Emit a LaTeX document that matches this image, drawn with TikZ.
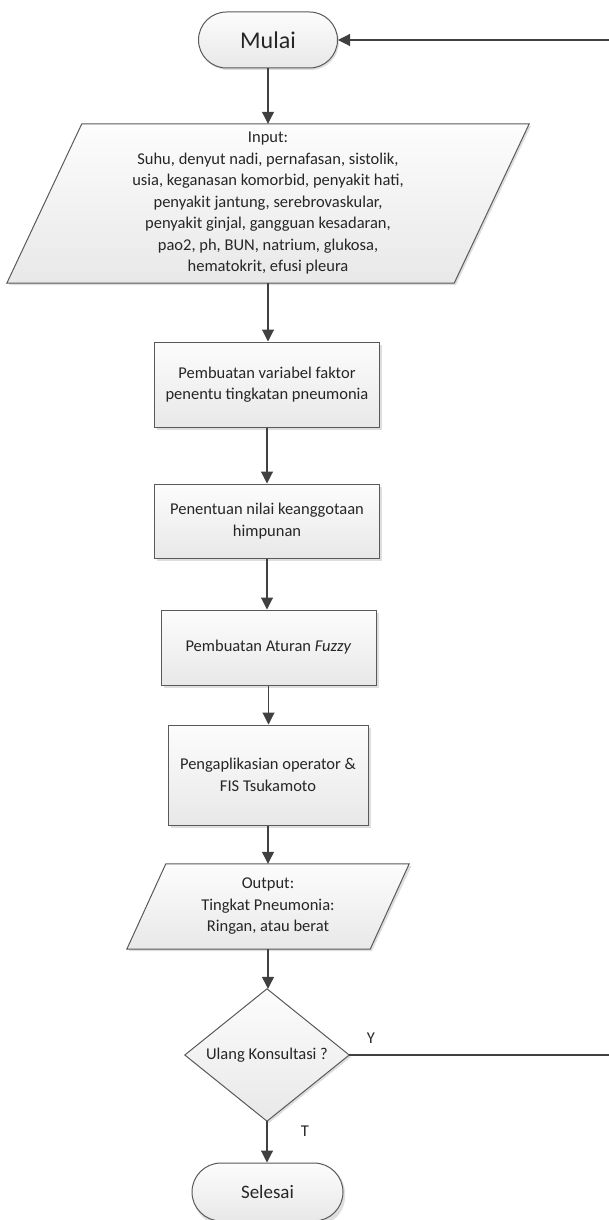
\documentclass[tikz,border=0pt]{standalone}
\usepackage{fontspec}
\setmainfont{Carlito}
\usetikzlibrary{arrows.meta,shapes.misc,calc}
\definecolor{linec}{HTML}{404040}
\definecolor{bordc}{HTML}{595959}
\definecolor{txtc}{HTML}{262626}
\tikzset{
  shp/.style={draw=bordc, line width=1pt, top color=black!1, bottom color=black!9},
  shd/.style={fill=black!13, draw=none},
  txt/.style={text=txtc, align=center, font=\fontsize{16.5}{21.5}\selectfont, inner sep=0pt},
  term/.style={rounded rectangle, shp, txt},
  procbox/.style={rectangle, shp, txt},
  slot/.style={rectangle, draw=none, txt},
  arr/.style={draw=linec, line width=1.1pt, -{Triangle[width=12pt,length=12pt]}},
  lbl/.style={text=txtc, font=\fontsize{16.5}{20}\selectfont, inner sep=0pt}
}
\begin{document}
\begin{tikzpicture}[x=1pt,y=-1pt]
\useasboundingbox (0,0) rectangle (609,1220);
% shadows
\fill[shd, rounded corners=28pt] (200,14) rectangle (339,70);
\fill[shd] (156.5,344.5) rectangle (381.5,429.5);
\fill[shd] (156.5,486.5) rectangle (381.5,560.5);
\fill[shd] (163.5,612.5) rectangle (378.5,687.5);
\fill[shd] (170.5,727.5) rectangle (370.5,827.5);
\fill[shd] (84,126) -- (531,126) -- (456,285) -- (9,285) -- cycle;
\fill[shd] (168,866) -- (411.5,866) -- (372,951) -- (129,951) -- cycle;
\fill[shd] (269,991) -- (351,1057) -- (269,1123) -- (187,1057) -- cycle;
\fill[shd, rounded corners=28pt] (194,1165) rectangle (345,1225);
% nodes
\node[term, minimum width=139pt, minimum height=56pt, font=\fontsize{24}{28}\selectfont] (m) at (268,40) {Mulai};
\node[slot, minimum width=447pt, minimum height=159pt] (inp) at (268,203.5) {};
\path[shp] ([xshift=37.5pt]inp.north west) -- ([xshift=37.5pt]inp.north east) -- ([xshift=-37.5pt]inp.south east) -- ([xshift=-37.5pt]inp.south west) -- cycle;
\node[slot] (inptext) at (inp.center)
 {Input:\\Suhu, denyut nadi, pernafasan, sistolik,\\usia, keganasan komorbid, penyakit hati,\\penyakit jantung, serebrovaskular,\\penyakit ginjal, gangguan kesadaran,\\pao2, ph, BUN, natrium, glukosa,\\hematokrit, efusi pleura};
\node[procbox, minimum width=225pt, minimum height=85pt] (b1) at (267,384.5) {Pembuatan variabel faktor\\penentu tingkatan pneumonia};
\node[procbox, minimum width=225pt, minimum height=74pt] (b2) at (267,521) {Penentuan nilai keanggotaan\\himpunan};
\node[procbox, minimum width=215pt, minimum height=75pt] (b3) at (268.5,647.5) {Pembuatan Aturan \textit{Fuzzy}};
\node[procbox, minimum width=200pt, minimum height=100pt] (b4) at (268,775) {Pengaplikasian operator \&\\FIS Tsukamoto};
\node[slot, minimum width=243pt, minimum height=85pt] (out) at (268,906.5) {};
\path[shp] ([xshift=19.5pt]out.north west) -- ([xshift=19.5pt]out.north east) -- ([xshift=-19.5pt]out.south east) -- ([xshift=-19.5pt]out.south west) -- cycle;
\node[slot] (outtext) at (out.center) {Output:\\Tingkat Pneumonia:\\Ringan, atau berat};
\node[slot, minimum width=164pt, minimum height=132pt] (d) at (267,1055) {};
\path[shp] (d.north) -- (d.east) -- (d.south) -- (d.west) -- cycle;
\node[slot] (dtext) at (d.center) {Ulang Konsultasi ?};
\node[term, minimum width=151pt, minimum height=58pt, font=\fontsize{19}{23}\selectfont] (s) at (267.5,1192) {Selesai};
% labels
\node[lbl] (ly) at (371,1038) {Y};
\node[lbl] (lt) at (305,1131) {T};
% connectors
\coordinate (c1) at (613,1055);
\draw[arr] (m.south) -- (inp.north);
\draw[arr] (inp.south) -- (inp.south |- b1.north);
\draw[arr] (b1.south) -- (b1.south |- b2.north);
\draw[arr] (b2.south) -- (b2.south |- b3.north);
\draw[arr] (b3.south) -- (b3.south |- b4.north);
\draw[arr] (b4.south) -- (b4.south |- out.north);
\draw[arr] (out.south) -- (out.south |- d.north);
\draw[arr] (d.south) -- (d.south |- s.north);
\draw[arr] (d.east) -- (c1) |- (m.east);
\end{tikzpicture}
\end{document}
